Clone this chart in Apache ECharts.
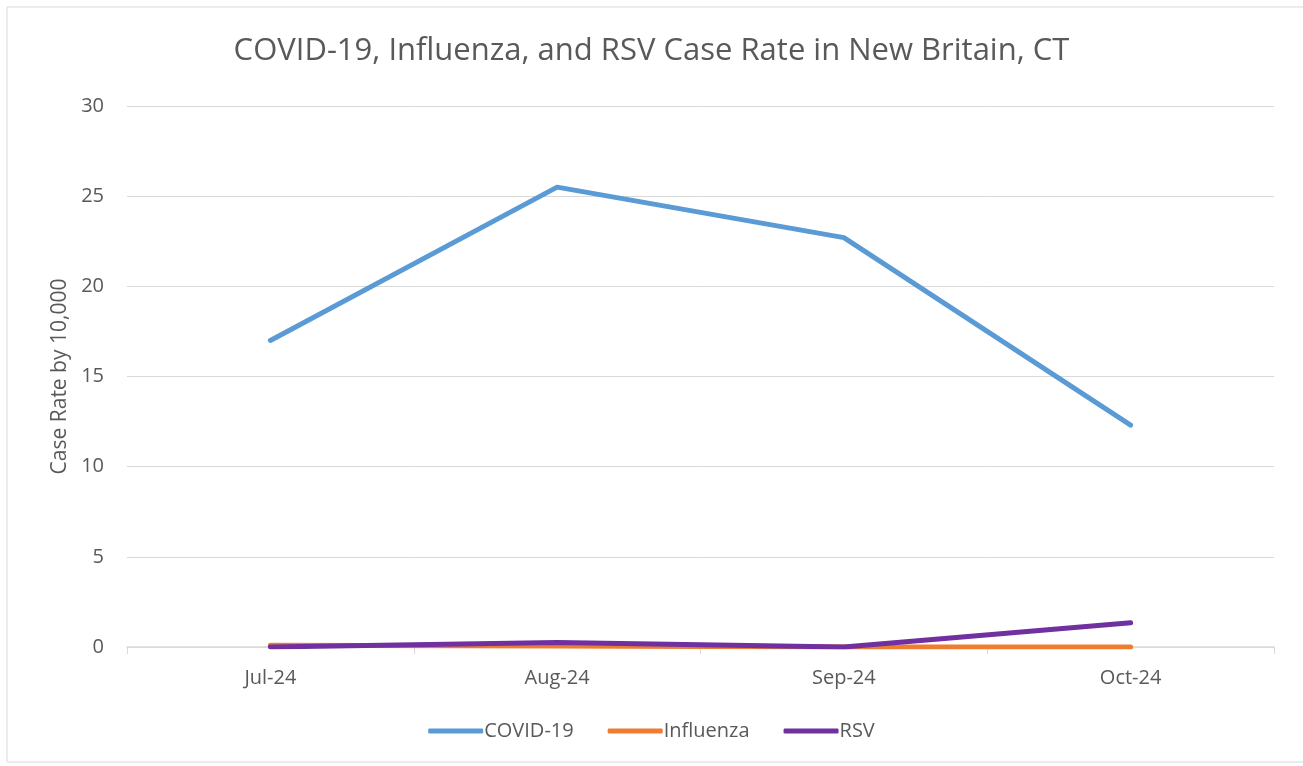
<!DOCTYPE html>
<html>
<head>
<meta charset="UTF-8">
<title>COVID-19, Influenza, and RSV Case Rate</title>
<script src="https://cdn.jsdelivr.net/npm/echarts@6/dist/echarts.min.js"></script>
<style>
  html, body { margin: 0; padding: 0; background: #fff; }
  #chart { width: 1303px; height: 766px; }
</style>
</head>
<body>
<div id="chart"></div>
<script>
// data
var months = ['Jul-24', 'Aug-24', 'Sep-24', 'Oct-24'];
var covid = [17.0, 25.5, 22.7, 12.3];
var influenza = [0.1, 0.05, 0, 0];
var rsv = [0, 0.25, 0, 1.35];

var txt = '#595959';
var font = 'Open Sans';

var myChart = echarts.init(document.getElementById('chart'));

function line(name, data, color) {
  return {
    name: name,
    type: 'line',
    data: data,
    symbol: 'none',
    lineStyle: { width: 5, color: color, cap: 'round', join: 'round' },
    itemStyle: { color: color }
  };
}

var option = {
  animation: false,
  backgroundColor: '#fff',
  graphic: [{
    type: 'rect',
    shape: { x: 7, y: 7, width: 1310, height: 755 },
    style: { fill: 'none', stroke: '#d9d9d9', lineWidth: 1 },
    silent: true
  }],
  title: {
    text: 'COVID-19, Influenza, and RSV Case Rate in New Britain, CT',
    left: 'center',
    top: 31,
    textStyle: { color: txt, fontSize: 31, fontWeight: 'normal', fontFamily: font }
  },
  legend: {
    bottom: 20,
    left: 'center',
    itemWidth: 55,
    itemHeight: 5,
    itemGap: 34,
    icon: 'roundRect',
    textStyle: { color: txt, fontSize: 20, fontFamily: font, padding: [0, 0, 0, -4] },
    data: ['COVID-19', 'Influenza', 'RSV']
  },
  grid: { left: 127, right: 29, top: 106, bottom: 119 },
  xAxis: {
    type: 'category',
    data: months,
    boundaryGap: true,
    axisLine: { lineStyle: { color: '#d9d9d9', width: 1.5 } },
    axisTick: { show: true, length: 7, lineStyle: { color: '#d9d9d9' } },
    axisLabel: { color: txt, fontSize: 20, fontFamily: font, margin: 21 }
  },
  yAxis: {
    type: 'value',
    min: 0,
    max: 30,
    interval: 5,
    name: 'Case Rate by 10,000',
    nameLocation: 'middle',
    nameGap: 56,
    nameTextStyle: { color: txt, fontSize: 21, fontFamily: font },
    axisLine: { show: false },
    axisTick: { show: false },
    axisLabel: { color: txt, fontSize: 20, fontFamily: font, margin: 23 },
    splitLine: { lineStyle: { color: '#d9d9d9', width: 1 } }
  },
  series: [
    line('COVID-19', covid, '#5b9bd5'),
    line('Influenza', influenza, '#ed7d31'),
    line('RSV', rsv, '#7030a0')
  ]
};

myChart.setOption(option);
</script>
</body>
</html>
